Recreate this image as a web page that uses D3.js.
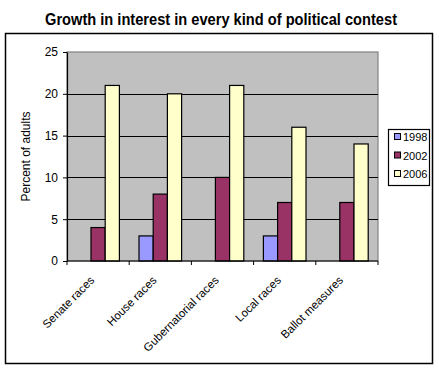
<!DOCTYPE html>
<html>
<head>
<meta charset="utf-8">
<script src="https://cdn.jsdelivr.net/npm/d3@7"></script>
<style>
body{margin:0;background:#fff;}
text{font-family:"Liberation Sans",Arial,sans-serif;}
</style>
</head>
<body>
<div id="chart"></div>
<script>
var categories=["Senate races","House races","Gubernatorial races","Local races","Ballot measures"];
var seriesNames=["1998","2002","2006"];
var v1998=[0,3,0,3,0];
var v2002=[4,8,10,7,7];
var v2006=[21,20,21,16,14];
var yTicks=[0,5,10,15,20,25];
var colors=["#9999FF","#993366","#FFFFCC"];

function drawChart(){
    var W=439,H=368;
    var svg=d3.select('#chart').append('svg')
        .attr('width',W).attr('height',H);

    // outer frame
    svg.append('rect').attr('x',5.5).attr('y',33.5)
        .attr('width',427).attr('height',330)
        .attr('fill','#fff').attr('stroke','#000').attr('stroke-width',1.5);

    svg.append('text').attr('x',221).attr('y',25)
        .attr('text-anchor','middle')
        .attr('textLength',352).attr('lengthAdjust','spacingAndGlyphs')
        .style('font-size','16px').style('font-weight','bold')
        .text('Growth in interest in every kind of political contest');

    var left=67,right=378,top=52,bottom=261;
    var x=d3.scaleBand().domain(categories).range([left,right]).padding(0);
    var xs=d3.scaleBand().domain(seriesNames).range([0,x.bandwidth()]).paddingOuter(0.69).paddingInner(0);
    var y=d3.scaleLinear().domain([0,25]).range([bottom,top]);

    svg.append('rect').attr('x',left).attr('y',top)
        .attr('width',right-left).attr('height',bottom-top)
        .attr('fill','#C0C0C0').attr('stroke','#808080').attr('stroke-width',1.2);

    // gridlines
    svg.selectAll('.grid').data(yTicks.filter(function(d){return d>0&&d<25;}))
        .enter().append('line')
        .attr('x1',left).attr('x2',right)
        .attr('y1',function(d){return Math.round(y(d))+0.5;})
        .attr('y2',function(d){return Math.round(y(d))+0.5;})
        .attr('stroke','#000').attr('stroke-width',1.2);

    var vals=[v1998,v2002,v2006];
    seriesNames.forEach(function(s,si){
        svg.selectAll('.bar'+s).data(categories).enter().append('rect')
            .attr('x',function(c){return x(c)+xs(s);})
            .attr('y',function(c,i){return y(vals[si][i]);})
            .attr('width',xs.bandwidth())
            .attr('height',function(c,i){return y(0)-y(vals[si][i]);})
            .attr('fill',colors[si])
            .attr('stroke','#000').attr('stroke-width',1.2)
            .style('display',function(c,i){return vals[si][i]>0?null:'none';});
    });

    // y axis
    var yAxis=svg.append('g').attr('transform','translate('+left+',0)')
        .call(d3.axisLeft(y).tickValues(yTicks).tickSize(4).tickSizeOuter(0).tickPadding(5));
    yAxis.select('.domain').attr('stroke','#000').attr('stroke-width',1.2);
    yAxis.selectAll('line').attr('stroke','#000');
    yAxis.selectAll('text').style('font-size','12px').attr('fill','#000')
        .style('font-family','"Liberation Sans",Arial,sans-serif');

    // x axis
    var xAxis=svg.append('g').attr('transform','translate(0,'+bottom+')');
    xAxis.append('line').attr('x1',left).attr('x2',right)
        .attr('y1',0).attr('y2',0).attr('stroke','#000').attr('stroke-width',1.2);
    var bounds=categories.map(function(c){return x(c);}).concat([right]);
    xAxis.selectAll('.xt').data(bounds).enter().append('line')
        .attr('x1',function(d){return d;}).attr('x2',function(d){return d;})
        .attr('y1',0).attr('y2',4).attr('stroke','#000');
    xAxis.selectAll('.xl').data(categories).enter().append('text')
        .attr('text-anchor','end')
        .attr('transform',function(c){
            return 'translate('+(x(c)+x.bandwidth()/2-3)+',20) rotate(-45)';
        })
        .style('font-size','11.5px')
        .text(function(c){return c;});

    svg.append('text')
        .attr('transform','translate(30,'+((top+bottom)/2)+') rotate(-90)')
        .attr('text-anchor','middle')
        .style('font-size','12px')
        .text('Percent of adults');

    // legend
    var lg=svg.append('g');
    lg.append('rect').attr('x',388.5).attr('y',129.5).attr('width',41).attr('height',56)
        .attr('fill','#fff').attr('stroke','#000').attr('stroke-width',1.2);
    seriesNames.forEach(function(s,i){
        var yy=137+i*18.5;
        lg.append('rect').attr('x',394.5).attr('y',yy-3.5).attr('width',6).attr('height',6)
            .attr('fill',colors[i]).attr('stroke','#000').attr('stroke-width',1);
        lg.append('text').attr('x',403).attr('y',yy+4)
            .style('font-size','11px').text(s);
    });
}
drawChart();
</script>
</body>
</html>
